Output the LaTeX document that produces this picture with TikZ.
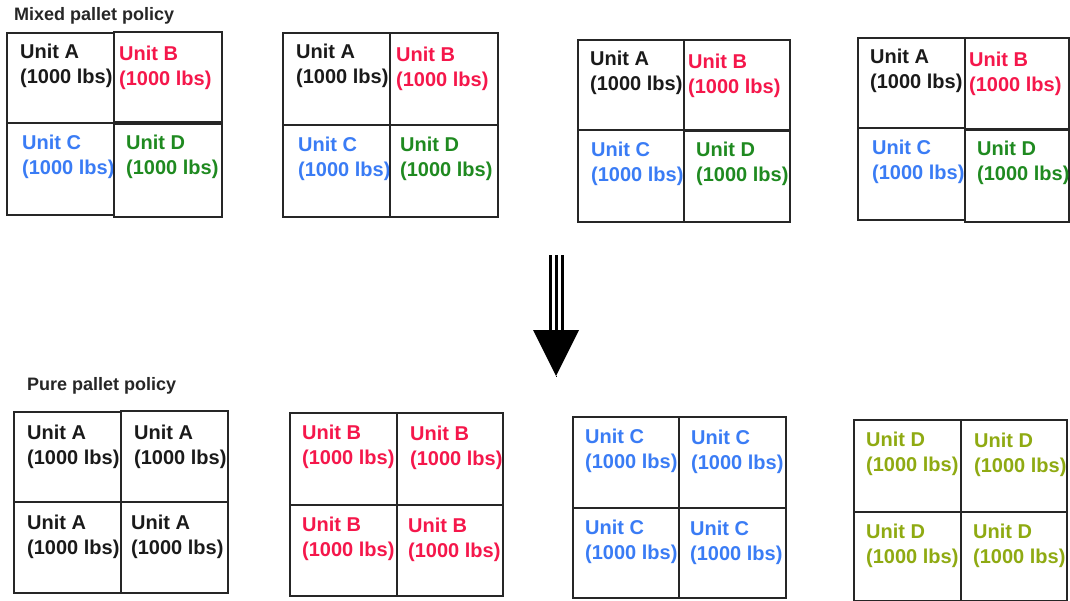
\documentclass[tikz,border=0pt]{standalone}
\usepackage{fontspec}
\setmainfont{Liberation Sans}
\definecolor{unitA}{HTML}{1A1A1A}
\definecolor{unitB}{HTML}{F5174B}
\definecolor{unitC}{HTML}{3A7CF5}
\definecolor{unitD}{HTML}{1F8A20}
\definecolor{unitDp}{HTML}{8FAA12}
\tikzset{
  cellbox/.style={draw=black!85, line width=1.4pt, inner sep=0pt, outer sep=0pt, anchor=north west},
  celltext/.style={anchor=north west, inner sep=0pt, align=left, font=\fontsize{20}{25}\selectfont\bfseries},
  heading/.style={anchor=base west, inner sep=0pt, font=\fontsize{18}{21}\selectfont\bfseries, text=black!85},
  shaft/.style={line width=3pt, black},
  arrowhead/.style={fill=black, draw=none}
}
% #1 name, #2 x1, #3 y1, #4 x2, #5 y2, #6 colour, #7 letter, #8 x offset, #9 y offset
\newcommand\palletcell[9]{%
  \node[cellbox, minimum width={(#4-#2)*1pt}, minimum height={(#5-#3)*1pt}] (#1) at (#2,#3) {};
  \node[celltext, text=#6] (#1t) at ([shift={(#8,#9)}]#1.north west) {Unit #7\\(1000 lbs)};
}
\begin{document}
\begin{tikzpicture}[x=1pt,y=-1pt]
\useasboundingbox (0,0) rectangle (1070,600);
\fill[white] (0,0) rectangle (1070,600);

\node[heading] (mixed) at (14,20) {Mixed pallet policy};
\node[heading] (pure) at (27,390) {Pure pallet policy};

% ---- mixed pallets ----
\palletcell{m1a}{7}{33}{114}{123}{unitA}{A}{13}{11}
\palletcell{m1b}{114}{32}{222}{122}{unitB}{B}{5}{14}
\palletcell{m1c}{7}{123}{114}{215}{unitC}{C}{15}{12}
\palletcell{m1d}{114}{124}{222}{217}{unitD}{D}{12}{11}

\palletcell{m2a}{283}{33}{390}{125}{unitA}{A}{13}{11}
\palletcell{m2b}{390}{33}{498}{125}{unitB}{B}{6}{14}
\palletcell{m2c}{283}{125}{390}{217}{unitC}{C}{15}{12}
\palletcell{m2d}{390}{125}{498}{217}{unitD}{D}{10}{12}

\palletcell{m3a}{578}{40}{684}{130}{unitA}{A}{12}{11}
\palletcell{m3b}{684}{40}{790}{130}{unitB}{B}{4}{14}
\palletcell{m3c}{578}{130}{684}{222}{unitC}{C}{13}{12}
\palletcell{m3d}{684}{131}{790}{222}{unitD}{D}{12}{11}

\palletcell{m4a}{858}{38}{965}{128}{unitA}{A}{12}{11}
\palletcell{m4b}{965}{38}{1069}{129}{unitB}{B}{4}{14}
\palletcell{m4c}{858}{128}{965}{220}{unitC}{C}{14}{12}
\palletcell{m4d}{965}{130}{1069}{222}{unitD}{D}{12}{11}

% ---- arrow ----
\coordinate (arrtop) at (556,255);
\coordinate (arrbase) at (556,330);
\node[arrowhead, inner sep=0pt] (arrtip) at (556,376) {};
\draw[shaft] ([xshift=-6pt]arrtop) -- ([xshift=-6pt]arrbase);
\draw[shaft] (arrtop) -- (arrbase);
\draw[shaft] ([xshift=6pt]arrtop) -- ([xshift=6pt]arrbase);
\fill[arrowhead] ([xshift=-23pt]arrbase) -- ([xshift=23pt]arrbase) -- (arrtip.center) -- cycle;

% ---- pure pallets ----
\palletcell{p1a}{14}{412}{121}{502}{unitA}{A}{13}{13}
\palletcell{p1b}{121}{411}{228}{502}{unitA}{A}{13}{14}
\palletcell{p1c}{14}{502}{121}{593}{unitA}{A}{13}{13}
\palletcell{p1d}{121}{502}{228}{593}{unitA}{A}{10}{13}

\palletcell{p2a}{290}{413}{397}{505}{unitB}{B}{12}{12}
\palletcell{p2b}{397}{413}{503}{505}{unitB}{B}{13}{13}
\palletcell{p2c}{290}{505}{397}{596}{unitB}{B}{12}{12}
\palletcell{p2d}{397}{505}{503}{596}{unitB}{B}{11}{13}

\palletcell{p3a}{573}{417}{679}{508}{unitC}{C}{12}{12}
\palletcell{p3b}{679}{417}{786}{508}{unitC}{C}{12}{13}
\palletcell{p3c}{573}{508}{679}{598}{unitC}{C}{12}{12}
\palletcell{p3d}{679}{508}{786}{598}{unitC}{C}{11}{13}

\palletcell{p4a}{854}{420}{961}{512}{unitDp}{D}{12}{12}
\palletcell{p4b}{961}{420}{1067}{512}{unitDp}{D}{13}{13}
\palletcell{p4c}{854}{512}{961}{601}{unitDp}{D}{12}{12}
\palletcell{p4d}{961}{512}{1067}{601}{unitDp}{D}{12}{12}
\end{tikzpicture}
\end{document}
